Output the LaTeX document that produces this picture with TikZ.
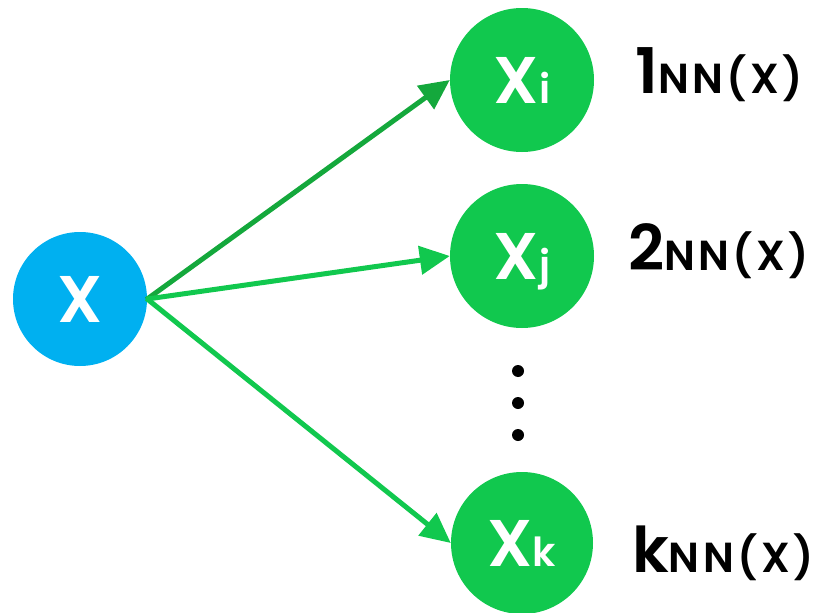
\documentclass[tikz,border=0pt]{standalone}
\usepackage{fontspec}
\setmainfont{Poppins}[BoldFont={Poppins SemiBold}]
\newfontfamily\lblfont{Poppins SemiBold}[LetterSpace=8]
\usetikzlibrary{arrows.meta}
\definecolor{cblue}{RGB}{0,176,240}
\definecolor{cgreen}{RGB}{17,200,78}
\definecolor{cdark}{RGB}{20,168,60}
\tikzset{
  ball/.style={circle, fill=#1, draw=none, minimum size=144pt, inner sep=0pt,
    text=white, font=\bfseries\fontsize{66}{66}\selectfont, text height=46pt, text depth=0pt},
  conn/.style={line width=5pt, draw=#1, -{Triangle[length=30pt,width=28pt]}, shorten <=-1pt},
  nnlabel/.style={anchor=base west, inner sep=0pt, font=\lblfont},
  vdot/.style={circle, fill=black, minimum size=12pt, inner sep=0pt}
}
\newcommand{\sub}[1]{{\fontsize{40}{40}\selectfont #1}}
\newcommand{\bignum}[1]{{\fontsize{63}{63}\selectfont #1}}
\newcommand{\nnx}{{\fontsize{42}{42}\selectfont NN(X)}}
\begin{document}
\begin{tikzpicture}[x=1pt,y=-1pt]
\useasboundingbox (0,0) rectangle (820,613);
\node[ball=cblue, minimum size=134pt] (x) at (80,299) {X};
\node[ball=cgreen] (xi) at (522,80) {X\sub{i}};
\node[ball=cgreen] (xj) at (522,256) {X\sub{j}};
\node[ball=cgreen, minimum size=142pt] (xk) at (522,543) {X\sub{k}};
\draw[conn=cdark] (x.east) -- (xi.west);
\draw[conn=cgreen] (x.east) -- (xj.west);
\draw[conn=cgreen] (x.east) -- (xk.west);
\node[vdot] (d1) at (518,371) {};
\node[vdot] (d2) at (518,403) {};
\node[vdot] (d3) at (518,435) {};
\node[nnlabel] (l1) at (635,93) {\bignum{1}\nnx};
\node[nnlabel] (l2) at (628,270) {\bignum{2}\nnx};
\node[nnlabel] (l3) at (632,572) {\bignum{k}\nnx};
\end{tikzpicture}
\end{document}
